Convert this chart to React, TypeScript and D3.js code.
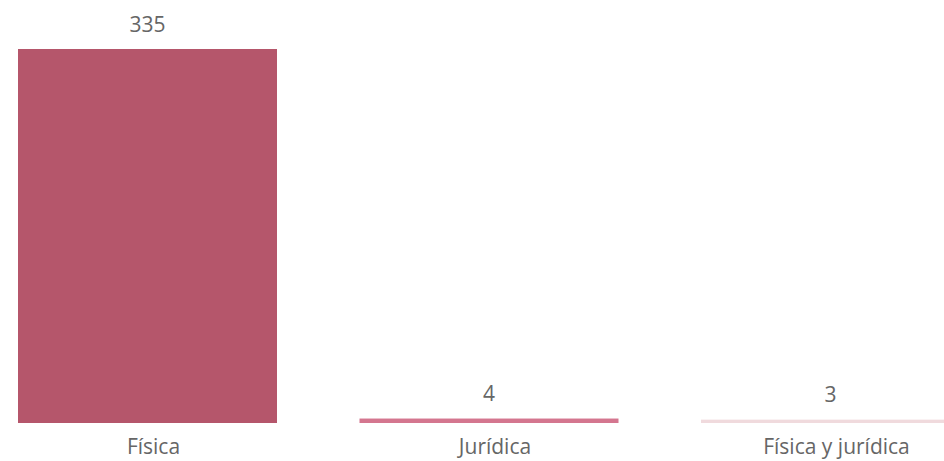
import React from "react";
import * as d3 from "d3";

const categories = ["Física", "Jurídica", "Física y jurídica"];
const values = [335, 4, 3];
const colors = ["#b5566b", "#d4768f", "#f0dadd"];

const W = 944;
const H = 461;

export default function App() {
  const x = d3
    .scaleBand<string>()
    .domain(categories)
    .range([18, 960])
    .paddingInner(82.5 / 341.5)
    .paddingOuter(0);
  const y = d3.scaleLinear().domain([0, 335]).range([423, 49]);
  const font = "'Open Sans', 'Noto Sans', sans-serif";
  return (
    <div style={{ position: "fixed", left: 0, top: 0, width: W, height: H, overflow: "hidden", background: "#fff" }}>
      <svg width={W} height={H} style={{ display: "block" }}>
        {categories.map((c, i) => {
          const x0 = x(c)!;
          const bw = x.bandwidth();
          const cx = x0 + bw / 2;
          return (
            <g key={c}>
              <rect x={x0} y={y(values[i])} width={bw} height={y(0) - y(values[i])} fill={colors[i]} />
              <text x={cx} y={y(values[i]) - 17.5} textAnchor="middle" fontFamily={font} fontSize={21} fill="#666666">
                {values[i]}
              </text>
              <text x={cx + 6} y={454} textAnchor="middle" fontFamily={font} fontSize={21} fill="#666666">
                {c}
              </text>
            </g>
          );
        })}
      </svg>
    </div>
  );
}
